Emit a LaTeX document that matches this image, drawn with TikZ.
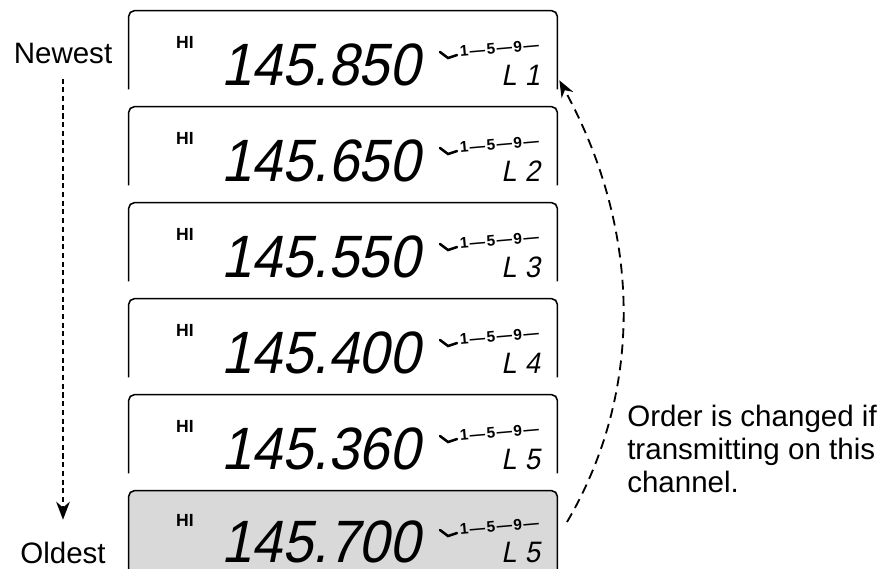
\documentclass[tikz,border=0pt]{standalone}
\usepackage{fontspec}
\setmainfont{Liberation Sans}
\newfontfamily\lcdfont[FakeStretch=0.92,FakeSlant=0.2]{Liberation Sans}
\usetikzlibrary{positioning, arrows.meta}

\begin{document}
\begin{tikzpicture}[
  x=0.025cm, y=-0.025cm,
  lcd/.style={minimum width=10.7cm, minimum height=1.95cm, inner sep=0pt},
  frame/.style={draw, line width=1.1pt, rounded corners=4pt},
  caption/.style={font=\fontsize{21}{23.5}\selectfont, inner sep=0pt},
  hi/.style={font=\bfseries\fontsize{12.5}{12.5}\selectfont, inner sep=0pt},
  freq/.style={font=\lcdfont\fontsize{42.5}{42.5}\selectfont, anchor=base west, inner sep=0pt},
  scalebar/.style={font=\bfseries\fontsize{11}{11}\selectfont, anchor=base west, inner sep=0pt, rotate=5},
  chan/.style={font=\lcdfont\fontsize{21}{21}\selectfont, anchor=base west, inner sep=0pt},
  curl/.style={line width=1.8pt, line cap=round},
  arrow/.style={-{Stealth[length=4.5mm, width=3.4mm]}, line width=1.4pt, dash pattern=on 3.6pt off 2.6pt},
  ret/.style={-{Stealth[length=4.2mm, width=3.3mm]}, line width=1.3pt, dash pattern=on 7pt off 4.5pt}
]
\useasboundingbox (0,0) rectangle (887,568);

\node[lcd] (d1) at (343,50) {};
\node[lcd] (d2) at (343,146) {};
\node[lcd] (d3) at (343,242) {};
\node[lcd] (d4) at (343,338) {};
\node[lcd] (d5) at (343,434) {};
\node[lcd, minimum height=2.7cm] (d6) at (343,545) {};

\fill[gray!30, rounded corners=4pt] (d6.south west) rectangle (d6.north east);
\draw[frame] (d1.south west) |- (d1.north east) -- (d1.south east);
\draw[frame] (d2.south west) |- (d2.north east) -- (d2.south east);
\draw[frame] (d3.south west) |- (d3.north east) -- (d3.south east);
\draw[frame] (d4.south west) |- (d4.north east) -- (d4.south east);
\draw[frame] (d5.south west) |- (d5.north east) -- (d5.south east);
\draw[frame] (d6.south west) |- (d6.north east) -- (d6.south east);

\node[hi] (h1) at (185,42) {HI};
\node[freq] (f1) at (221,85) {145.850};
\draw[curl] (440,52) -- (448,58) -- (457,55);
\node[scalebar] (s1) at (460,57) {1\kern1pt—\kern1pt5\kern1pt—\kern1pt9\kern1pt—};
\node[chan] (c1) at (501,85) {L\kern6pt1};

\node[hi] (h2) at (185,138) {HI};
\node[freq] (f2) at (221,181) {145.650};
\draw[curl] (440,148) -- (448,154) -- (457,151);
\node[scalebar] (s2) at (460,153) {1\kern1pt—\kern1pt5\kern1pt—\kern1pt9\kern1pt—};
\node[chan] (c2) at (501,181) {L\kern6pt2};

\node[hi] (h3) at (185,234) {HI};
\node[freq] (f3) at (221,277) {145.550};
\draw[curl] (440,244) -- (448,250) -- (457,247);
\node[scalebar] (s3) at (460,249) {1\kern1pt—\kern1pt5\kern1pt—\kern1pt9\kern1pt—};
\node[chan] (c3) at (501,277) {L\kern6pt3};

\node[hi] (h4) at (185,330) {HI};
\node[freq] (f4) at (221,373) {145.400};
\draw[curl] (440,340) -- (448,346) -- (457,343);
\node[scalebar] (s4) at (460,345) {1\kern1pt—\kern1pt5\kern1pt—\kern1pt9\kern1pt—};
\node[chan] (c4) at (501,373) {L\kern6pt4};

\node[hi] (h5) at (185,426) {HI};
\node[freq] (f5) at (221,469) {145.360};
\draw[curl] (440,436) -- (448,442) -- (457,439);
\node[scalebar] (s5) at (460,441) {1\kern1pt—\kern1pt5\kern1pt—\kern1pt9\kern1pt—};
\node[chan] (c5) at (501,469) {L\kern6pt5};

\node[hi] (h6) at (185,520) {HI};
\node[freq] (f6) at (221,562) {145.700};
\draw[curl] (440,530) -- (448,536) -- (457,533);
\node[scalebar] (s6) at (460,535) {1\kern1pt—\kern1pt5\kern1pt—\kern1pt9\kern1pt—};
\node[chan] (c6) at (501,562) {L\kern6pt5};

\node[caption, anchor=base] (newest) at (63,63) {Newest};
\node[caption, anchor=base] (oldest) at (63,563) {Oldest};
\draw[arrow, shorten <=0.375cm, shorten >=0.54cm] (newest.south) -- (oldest.north);

\coordinate (txsrc) at (567,522);
\draw[ret] (txsrc) .. controls (643,393) and (643,233) .. ([shift={(2,-9)}]d1.south east);

\node[caption, anchor=north west, align=left] (note) at (627,405) {Order is changed if\\transmitting on this\\channel.};

\end{tikzpicture}
\end{document}
